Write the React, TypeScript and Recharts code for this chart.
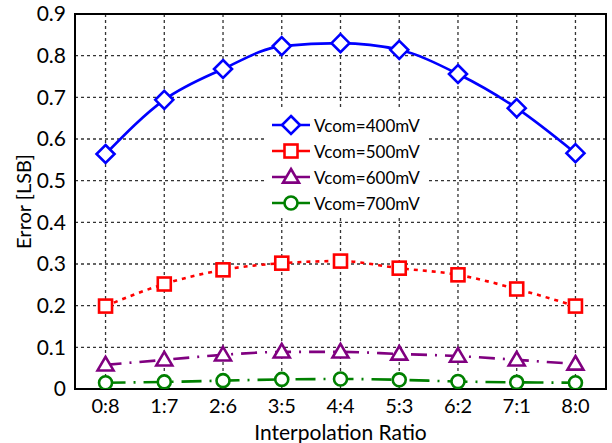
import React from 'react';
import { LineChart, Line, XAxis, YAxis, CartesianGrid, ReferenceArea, Label } from 'recharts';

const categories = ['0:8', '1:7', '2:6', '3:5', '4:4', '5:3', '6:2', '7:1', '8:0'];
const vcom400 = [0.564, 0.694, 0.768, 0.823, 0.830, 0.814, 0.756, 0.674, 0.566];
const vcom500 = [0.199, 0.252, 0.286, 0.302, 0.307, 0.290, 0.274, 0.240, 0.199];
const vcom600 = [0.058, 0.070, 0.082, 0.089, 0.089, 0.084, 0.079, 0.070, 0.060];
const vcom700 = [0.015, 0.017, 0.020, 0.023, 0.024, 0.022, 0.018, 0.016, 0.015];
const yTicks = [0, 0.1, 0.2, 0.3, 0.4, 0.5, 0.6, 0.7, 0.8, 0.9];

const data = categories.map((c, i) => ({
  x: i,
  v400: vcom400[i],
  v500: vcom500[i],
  v600: vcom600[i],
  v700: vcom700[i],
}));

const FONT = 'Lato, "Open Sans", sans-serif';

type Kind = 'diamond' | 'square' | 'triangle' | 'circle';

const Marker = ({ cx, cy, kind, color }: { cx: number; cy: number; kind: Kind; color: string }) => {
  const sw = 2.6;
  if (kind === 'diamond') {
    const r = 9;
    return <polygon points={`${cx},${cy - r} ${cx + r},${cy} ${cx},${cy + r} ${cx - r},${cy}`} fill="#fff" stroke={color} strokeWidth={sw} />;
  }
  if (kind === 'square') {
    const r = 6.5;
    return <rect x={cx - r} y={cy - r} width={2 * r} height={2 * r} fill="#fff" stroke={color} strokeWidth={sw} />;
  }
  if (kind === 'triangle') {
    const r = 8;
    return <polygon points={`${cx},${cy - r} ${cx + r},${cy + r * 0.7} ${cx - r},${cy + r * 0.7}`} fill="#fff" stroke={color} strokeWidth={sw} />;
  }
  return <circle cx={cx} cy={cy} r={6.5} fill="#fff" stroke={color} strokeWidth={sw} />;
};

const makeDot = (kind: Kind, color: string) => (props: any) => {
  const { cx, cy, index } = props;
  if (cx == null || cy == null) return <g key={index} />;
  return <g key={index}><Marker cx={cx} cy={cy} kind={kind} color={color} /></g>;
};

const series = [
  { key: 'v400', name: 'Vcom=400mV', color: '#0000ff', kind: 'diamond' as Kind, dash: undefined as string | undefined },
  { key: 'v500', name: 'Vcom=500mV', color: '#ff0000', kind: 'square' as Kind, dash: '4 5' },
  { key: 'v600', name: 'Vcom=600mV', color: '#800080', kind: 'triangle' as Kind, dash: '16 8 2 8' },
  { key: 'v700', name: 'Vcom=700mV', color: '#008000', kind: 'circle' as Kind, dash: '20 8 2 8' },
];

const LegendBox = () => (
  <div style={{ position: 'absolute', left: 266, top: 110, background: '#fff', padding: '2px 8px 2px 5px', fontFamily: FONT }}>
    {series.map((s) => (
      <div key={s.key} style={{ display: 'flex', alignItems: 'center', height: 26 }}>
        <svg width={40} height={22}>
          <line x1={1} y1={11} x2={39} y2={11} stroke={s.color} strokeWidth={2.6} />
          <Marker cx={20} cy={11} kind={s.kind} color={s.color} />
        </svg>
        <span style={{ fontSize: 17, color: '#000', marginLeft: 3 }}>{s.name}</span>
      </div>
    ))}
  </div>
);

export default function App() {
  return (
    <div style={{ position: 'absolute', left: 0, top: 0, width: 612, height: 443, background: '#fff' }}>
      <LineChart width={612} height={443} data={data} margin={{ top: 14, right: 6, left: 0, bottom: 0 }}>
        <CartesianGrid stroke="#333" strokeDasharray="3 3" strokeWidth={1.3} />
        <XAxis
          dataKey="x"
          type="number"
          domain={[-0.52, 8.52]}
          ticks={[0, 1, 2, 3, 4, 5, 6, 7, 8]}
          tickFormatter={(v: number) => categories[v]}
          tick={{ fill: '#000', fontSize: 20, fontFamily: FONT }}
          tickLine={false}
          axisLine={false}
          tickMargin={4}
          height={54}
          allowDataOverflow
        >
          <Label value="Interpolation Ratio" position="insideBottom" offset={3} style={{ fill: '#000', fontSize: 21, fontFamily: FONT }} />
        </XAxis>
        <YAxis
          type="number"
          domain={[0, 0.9]}
          ticks={yTicks}
          tickFormatter={(v: number) => (v === 0 ? '0' : v.toFixed(1))}
          tick={{ fill: '#000', fontSize: 21, fontFamily: FONT }}
          tickLine={false}
          axisLine={false}
          width={75}
          tickMargin={3}
          allowDataOverflow
        >
          <Label value="Error [LSB]" angle={-90} position="insideLeft" offset={24} style={{ fill: '#000', fontSize: 20, fontFamily: FONT, textAnchor: 'middle' }} />
        </YAxis>
        <ReferenceArea x1={-0.52} x2={8.52} y1={0} y2={0.9} fill="none" stroke="#000" strokeWidth={2} ifOverflow="visible" />
        {series.map((s) => (
          <Line
            key={s.key}
            dataKey={s.key}
            name={s.name}
            type="monotone"
            stroke={s.color}
            strokeWidth={2.6}
            strokeDasharray={s.dash}
            dot={makeDot(s.kind, s.color)}
            activeDot={false}
            isAnimationActive={false}
          />
        ))}
      </LineChart>
      <LegendBox />
    </div>
  );
}
